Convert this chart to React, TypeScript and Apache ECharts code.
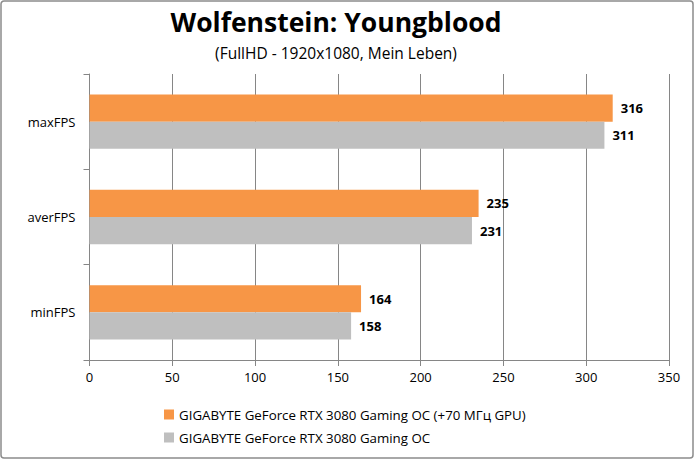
import React, { useEffect, useRef } from "react";
import * as echarts from "echarts";

const categories = ["maxFPS", "averFPS", "minFPS"];
const seriesNames = [
  "GIGABYTE GeForce RTX 3080 Gaming OC (+70 МГц GPU)",
  "GIGABYTE GeForce RTX 3080 Gaming OC",
];
const ocValues = [316, 235, 164];
const stockValues = [311, 231, 158];
const xTicks = [0, 50, 100, 150, 200, 250, 300, 350];

const FONT = "'Open Sans', 'Noto Sans', sans-serif";

export default function App() {
  const ref = useRef<HTMLDivElement>(null);
  useEffect(() => {
    if (!ref.current) return;
    const chart = echarts.init(ref.current, undefined, { renderer: "svg" });
    const label = {
      show: true,
      position: "right" as const,
      distance: 8,
      color: "#000",
      fontWeight: "bold" as const,
      fontSize: 13,
      fontFamily: FONT,
    };
    chart.setOption({
      animation: false,
      backgroundColor: "#fff",
      title: {
        text: "Wolfenstein: Youngblood",
        subtext: "(FullHD - 1920x1080, Mein Leben)",
        left: 331,
        textAlign: "center",
        top: 3,
        itemGap: 10,
        textStyle: { fontFamily: FONT, fontSize: 26.5, fontWeight: "bold", color: "#000" },
        subtextStyle: { fontFamily: FONT, fontSize: 15.5, color: "#000" },
      },
      graphic: [
        {
          type: "rect",
          shape: { x: 1, y: 1, width: 692, height: 457, r: 3 },
          style: { fill: "none", stroke: "#8c8c8c", lineWidth: 1.5 },
          silent: true,
        },
      ],
      legend: {
        orient: "vertical",
        left: 159,
        top: 403,
        itemWidth: 10,
        itemHeight: 10,
        itemGap: 10,
        icon: "rect",
        textStyle: { fontFamily: FONT, fontSize: 13.3, color: "#000" },
        data: seriesNames,
      },
      grid: { left: 89.5, right: 26, top: 74, bottom: 100, containLabel: false },
      xAxis: {
        type: "value",
        min: xTicks[0],
        max: xTicks[xTicks.length - 1],
        interval: 50,
        axisLine: { show: true, lineStyle: { color: "#868686" } },
        axisTick: { show: true, length: 6, lineStyle: { color: "#868686" } },
        splitLine: { show: true, lineStyle: { color: "#868686" } },
        axisLabel: { fontFamily: FONT, fontSize: 13, color: "#000", margin: 10 },
      },
      yAxis: {
        type: "category",
        inverse: true,
        data: categories,
        axisLine: { show: true, lineStyle: { color: "#868686" } },
        axisTick: { show: true, length: 6, lineStyle: { color: "#868686" } },
        splitLine: { show: false },
        axisLabel: { fontFamily: FONT, fontSize: 13, color: "#000", margin: 14 },
      },
      series: [
        {
          name: seriesNames[0],
          type: "bar",
          data: ocValues,
          itemStyle: { color: "#F79646" },
          barGap: "0%",
          barCategoryGap: "43%",
          label,
        },
        {
          name: seriesNames[1],
          type: "bar",
          data: stockValues,
          itemStyle: { color: "#BFBFBF" },
          barGap: "0%",
          barCategoryGap: "43%",
          label,
        },
      ],
    });
    return () => chart.dispose();
  }, []);
  return (
    <div
      ref={ref}
      style={{ position: "fixed", left: 0, top: 0, width: 695, height: 460 }}
    />
  );
}
